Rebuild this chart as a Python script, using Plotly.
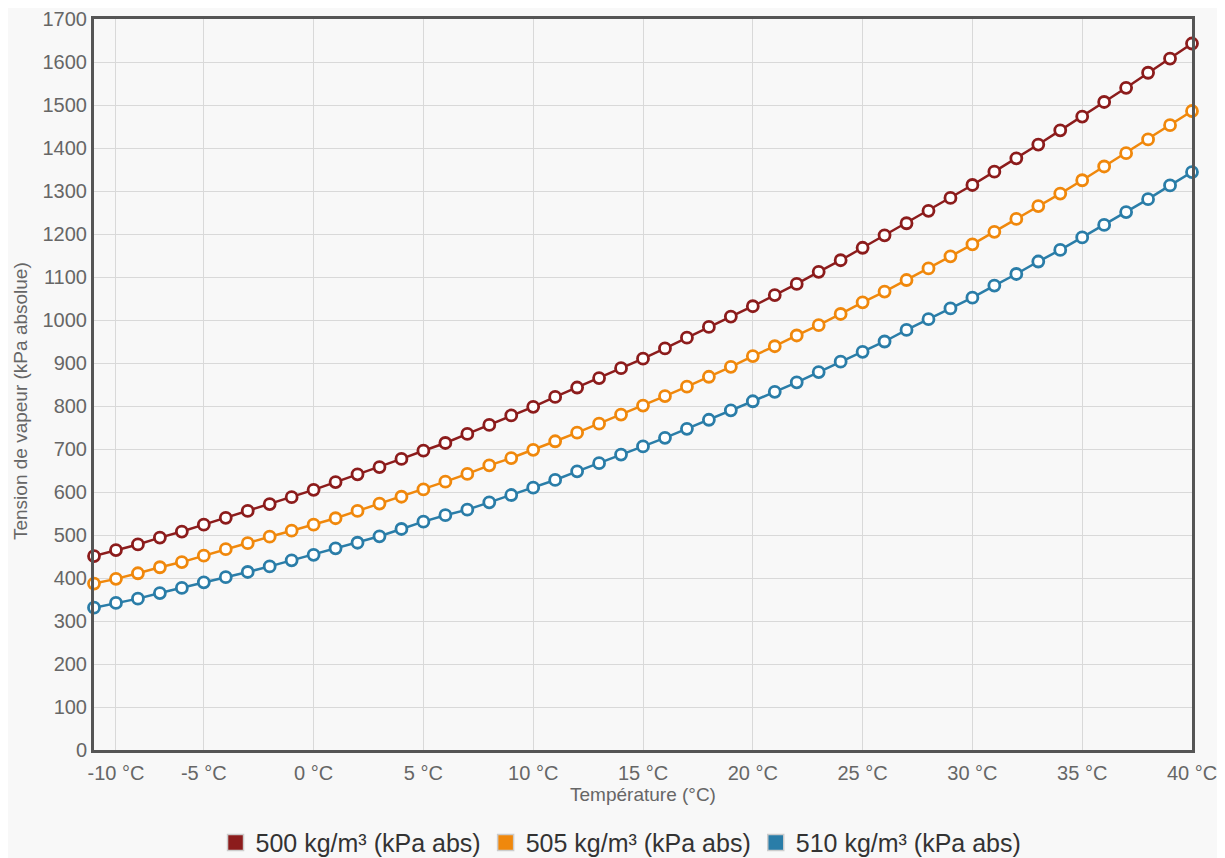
import plotly.graph_objects as go

temps = list(range(-10, 41))

p500 = [451, 465, 478, 494, 508, 524, 540, 556, 572, 588,
        605, 623, 641, 658, 677, 696, 714, 735, 756, 778,
        798, 821, 843, 865, 888, 910, 934, 959, 984, 1008,
        1032, 1058, 1084, 1112, 1139, 1168, 1197, 1225, 1254, 1284,
        1314, 1345, 1376, 1408, 1441, 1473, 1507, 1540, 1575, 1608,
        1643]
p505 = [387, 398, 411, 425, 437, 452, 467, 481, 496, 510,
        524, 539, 556, 573, 589, 606, 624, 642, 662, 679,
        698, 718, 738, 759, 780, 801, 823, 845, 868, 891,
        916, 939, 964, 988, 1014, 1041, 1066, 1093, 1120, 1148,
        1176, 1205, 1235, 1265, 1294, 1325, 1357, 1388, 1420, 1453,
        1486]
p510 = [331, 342, 352, 365, 377, 390, 402, 414, 427, 441,
        454, 469, 482, 497, 514, 531, 546, 559, 576, 593,
        610, 628, 648, 667, 687, 706, 726, 747, 768, 790,
        811, 833, 855, 879, 903, 926, 950, 977, 1002, 1027,
        1052, 1080, 1107, 1136, 1163, 1192, 1221, 1251, 1281, 1313,
        1344]

series_names = ["500 kg/m³ (kPa abs)", "505 kg/m³ (kPa abs)", "510 kg/m³ (kPa abs)"]
series_colors = ["#8c1c1c", "#f0880c", "#2a7da8"]

x_tick_vals = [-9, -5, 0, 5, 10, 15, 20, 25, 30, 35, 40]
x_tick_text = ["-10 °C", "-5 °C", "0 °C", "5 °C", "10 °C", "15 °C", "20 °C",
               "25 °C", "30 °C", "35 °C", "40 °C"]

x_title = "Température (°C)"
y_title = "Tension de vapeur (kPa absolue)"

FONT = "Liberation Sans, Arial, sans-serif"

fig = go.Figure()
for name, vals, col in zip(series_names, [p500, p505, p510], series_colors):
    fig.add_trace(go.Scatter(
        x=temps, y=vals, mode="lines+markers", name=name, showlegend=False,
        line=dict(color=col, width=2.5),
        marker=dict(symbol="circle", size=11, color="white",
                    line=dict(color=col, width=2.8)),
        cliponaxis=False,
    ))
for name, col in zip(series_names, series_colors):
    fig.add_trace(go.Scatter(
        x=[None], y=[None], mode="markers", name=name, showlegend=True,
        marker=dict(symbol="square", size=17, color=col,
                    line=dict(color="#cccccc", width=1.5)),
    ))

fig.add_annotation(
    text=y_title, textangle=-90, xref="paper", yref="paper",
    x=-0.0674, y=0.4774, xanchor="center", yanchor="middle", showarrow=False,
    font=dict(size=19, color="#666666", family=FONT),
)

fig.update_layout(
    width=1217, height=850,
    margin=dict(l=86, r=33, t=11, b=108, autoexpand=False),
    paper_bgcolor="#f8f8f8", plot_bgcolor="#f8f8f8",
    font=dict(family=FONT, color="#666666", size=20),
    showlegend=True,
    legend=dict(orientation="h", x=0.48, xanchor="center",
                yref="container", y=0.018, yanchor="middle",
                font=dict(size=25, color="#333333"),
                bgcolor="rgba(0,0,0,0)"),
    xaxis=dict(
        range=[-10, 40], tickvals=x_tick_vals, ticktext=x_tick_text,
        showgrid=True, gridcolor="#d9d9d9", gridwidth=1,
        showline=True, linecolor="#555555", linewidth=3, mirror=True,
        ticks="", zeroline=False, ticklabelstandoff=3, ticklabeloverflow="allow",
        tickfont=dict(size=20, color="#666666"),
        title=dict(text=x_title, font=dict(size=19, color="#666666"), standoff=3),
    ),
    yaxis=dict(
        range=[0, 1700], dtick=100,
        showgrid=True, gridcolor="#d9d9d9", gridwidth=1,
        showline=True, linecolor="#555555", linewidth=3, mirror=True,
        ticks="", zeroline=False, ticklabelstandoff=0, ticklabeloverflow="allow",
        tickfont=dict(size=20, color="#666666"),
    ),
)

fig.write_html("out.html")
